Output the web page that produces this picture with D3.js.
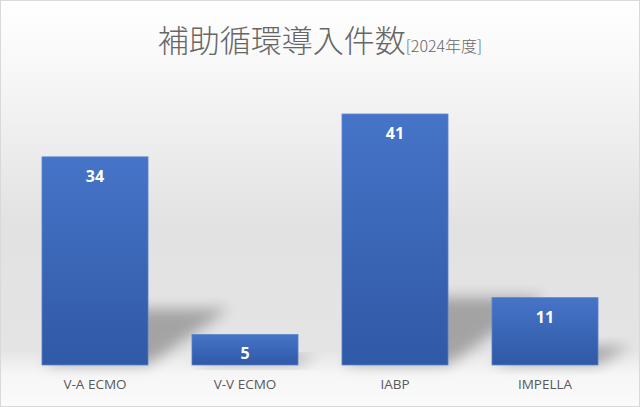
<!DOCTYPE html>
<html>
<head>
<meta charset="utf-8">
<script src="https://cdn.jsdelivr.net/npm/d3@7"></script>
<style>
  body { margin: 0; padding: 0; background: #ffffff; }
  svg { display: block; }
</style>
</head>
<body>
<div id="chart"></div>
<script>
// data
var categories = ["V-A ECMO", "V-V ECMO", "IABP", "IMPELLA"]
var counts = [34, 5, 41, 11]

var width = 640
var height = 407
var baseline = 365

var svg = d3.select("#chart")
            .append("svg")
            .attr("width", width)
            .attr("height", height)

var defs = svg.append("defs")

// background gradient
var bg = defs.append("linearGradient")
             .attr("id", "bg")
             .attr("x1", 0).attr("y1", 0)
             .attr("x2", 0).attr("y2", 1)
bg.append("stop").attr("offset", "0%").attr("stop-color", "#ffffff")
bg.append("stop").attr("offset", "14%").attr("stop-color", "#f9f9f9")
bg.append("stop").attr("offset", "55%").attr("stop-color", "#e2e2e2")
bg.append("stop").attr("offset", "86%").attr("stop-color", "#e4e4e4")
bg.append("stop").attr("offset", "92%").attr("stop-color", "#f6f6f6")
bg.append("stop").attr("offset", "100%").attr("stop-color", "#fbfbfb")

// bar gradient
var barGrad = defs.append("linearGradient")
                  .attr("id", "barGrad")
                  .attr("x1", 0).attr("y1", 0)
                  .attr("x2", 0).attr("y2", 1)
barGrad.append("stop").attr("offset", "0%").attr("stop-color", "#4674c8")
barGrad.append("stop").attr("offset", "100%").attr("stop-color", "#3059a6")

var blur = defs.append("filter")
               .attr("id", "blur")
               .attr("x", "-50%").attr("y", "-50%")
               .attr("width", "200%").attr("height", "200%")
blur.append("feGaussianBlur").attr("stdDeviation", 7)

svg.append("rect")
   .attr("x", 0.5).attr("y", 0.5)
   .attr("width", width - 1).attr("height", height - 1)
   .attr("fill", "url(#bg)")
   .attr("stroke", "#d9d9d9")
   .attr("stroke-width", 1)

// scales
var x = d3.scaleBand()
          .domain(categories)
          .range([20, 620])
          .paddingInner(0.293)
          .paddingOuter(0.1465)

var y = d3.scaleLinear()
          .domain([0, 41])
          .range([baseline, 114])

var data = categories.map(function(c, i) { return { name: c, value: counts[i] } })

// shadows
svg.append("g")
   .selectAll("path")
   .data(data)
   .join("path")
   .attr("d", function(d) {
       var x0 = x(d.name), x1 = x0 + x.bandwidth()
       var h = (baseline - y(d.value)) * 0.27
       var dx = h * 1.3 + 8
       return "M" + x0 + "," + baseline + "L" + x1 + "," + baseline +
              "L" + (x1 + dx) + "," + (baseline - h) + "L" + (x0 + dx) + "," + (baseline - h) + "Z"
   })
   .attr("fill", "#000")
   .attr("opacity", 0.28)
   .attr("filter", "url(#blur)")

// bars
svg.append("g")
   .selectAll("rect")
   .data(data)
   .join("rect")
   .attr("x", function(d) { return x(d.name) })
   .attr("y", function(d) { return y(d.value) })
   .attr("width", x.bandwidth())
   .attr("height", function(d) { return baseline - y(d.value) })
   .attr("fill", "url(#barGrad)")
   .attr("stroke", "#5b85d0")
   .attr("stroke-width", 0.75)

// value labels
svg.append("g")
   .selectAll("text")
   .data(data)
   .join("text")
   .attr("x", function(d) { return x(d.name) + x.bandwidth() / 2 })
   .attr("y", function(d) { return y(d.value) + 25 })
   .attr("text-anchor", "middle")
   .attr("font-family", "Open Sans, Noto Sans, sans-serif")
   .attr("font-weight", "700")
   .attr("font-size", "16px")
   .attr("fill", "#ffffff")
   .text(function(d) { return d.value })

// x axis labels
var xAxis = d3.axisBottom(x).tickSize(0).tickPadding(14)
var gx = svg.append("g")
            .attr("transform", "translate(0," + baseline + ")")
            .call(xAxis)
gx.select(".domain").remove()
gx.selectAll("text")
  .attr("font-family", "Open Sans, Noto Sans, sans-serif")
  .attr("font-size", "13.5px")
  .attr("fill", "#595959")

// title
var title = svg.append("text")
               .attr("x", 320)
               .attr("y", 52)
               .attr("text-anchor", "middle")
               .attr("fill", "#666666")
               .attr("font-family", "Noto Sans CJK JP, sans-serif")
title.append("tspan")
     .attr("font-size", "31px")
     .attr("font-weight", "300")
     .text("補助循環導入件数")
title.append("tspan")
     .attr("font-size", "16px")
     .attr("font-weight", "300")
     .text("[2024年度]")
</script>
</body>
</html>
